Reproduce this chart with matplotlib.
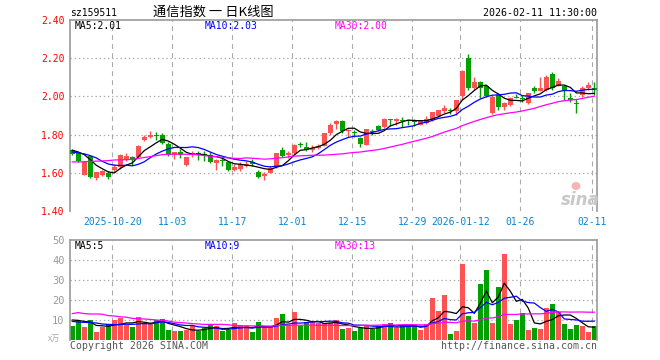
"""Daily K-line chart for sz159511 with volume panel."""

import matplotlib

matplotlib.use("Agg")
import matplotlib.pyplot as plt
import numpy as np
import pandas as pd
from matplotlib.patches import Ellipse

plt.rcParams["lines.scale_dashes"] = False

# OHLC per trading day, 2025-10-09 .. 2026-02-11
opens = [1.72, 1.704, 1.591, 1.687, 1.573, 1.591, 1.60, 1.615, 1.63, 1.665,
         1.685, 1.685, 1.77, 1.788, 1.796, 1.80, 1.753, 1.695, 1.71, 1.643,
         1.693, 1.702, 1.697, 1.694, 1.65, 1.668, 1.659, 1.615, 1.62, 1.633,
         1.655, 1.606, 1.585, 1.598, 1.632, 1.72, 1.694, 1.702, 1.75, 1.737,
         1.72, 1.73, 1.742, 1.807, 1.857, 1.873, 1.818, 1.813, 1.782, 1.747,
         1.818, 1.843, 1.84, 1.879, 1.869, 1.874, 1.878, 1.87, 1.852, 1.86,
         1.874, 1.895, 1.921, 1.928, 1.921, 2.00, 2.20, 2.043, 2.074, 2.052,
         1.912, 2.008, 1.947, 1.956, 1.996, 1.989, 1.964, 2.043, 2.026, 2.034,
         2.116, 2.057, 2.052, 1.994, 1.961, 2.008, 2.043, 2.046]
highs = [1.725, 1.709, 1.66, 1.69, 1.606, 1.615, 1.61, 1.645, 1.70, 1.705,
         1.69, 1.745, 1.80, 1.82, 1.815, 1.81, 1.76, 1.71, 1.725, 1.685,
         1.712, 1.715, 1.712, 1.708, 1.67, 1.685, 1.66, 1.645, 1.655, 1.66,
         1.672, 1.615, 1.606, 1.633, 1.705, 1.735, 1.712, 1.75, 1.76, 1.76,
         1.745, 1.75, 1.81, 1.86, 1.878, 1.878, 1.83, 1.826, 1.785, 1.83,
         1.83, 1.852, 1.886, 1.88, 1.886, 1.89, 1.878, 1.88, 1.876, 1.895,
         1.92, 1.93, 1.955, 1.94, 1.98, 2.14, 2.221, 2.104, 2.08, 2.06,
         2.008, 2.017, 1.973, 1.995, 2.01, 2.005, 2.02, 2.057, 2.104, 2.11,
         2.127, 2.095, 2.06, 2.017, 1.985, 2.052, 2.074, 2.074]
lows = [1.695, 1.655, 1.588, 1.572, 1.561, 1.585, 1.57, 1.605, 1.62, 1.66,
        1.64, 1.68, 1.765, 1.78, 1.77, 1.75, 1.69, 1.67, 1.68, 1.638,
        1.685, 1.668, 1.66, 1.65, 1.617, 1.633, 1.61, 1.608, 1.61, 1.63,
        1.638, 1.575, 1.56, 1.597, 1.625, 1.685, 1.68, 1.70, 1.735, 1.715,
        1.71, 1.725, 1.74, 1.80, 1.83, 1.81, 1.79, 1.79, 1.735, 1.745,
        1.80, 1.82, 1.835, 1.845, 1.85, 1.84, 1.848, 1.845, 1.85, 1.857,
        1.87, 1.89, 1.915, 1.91, 1.905, 1.98, 2.035, 2.035, 1.99, 1.995,
        1.907, 1.93, 1.93, 1.95, 1.99, 1.97, 1.96, 2.017, 2.026, 2.03,
        2.035, 2.055, 1.982, 1.973, 1.912, 1.999, 2.035, 2.008]
closes = [1.70, 1.66, 1.657, 1.578, 1.603, 1.608, 1.578, 1.63, 1.695, 1.69,
          1.665, 1.74, 1.79, 1.796, 1.793, 1.757, 1.695, 1.707, 1.695, 1.683,
          1.705, 1.699, 1.693, 1.659, 1.667, 1.664, 1.615, 1.632, 1.645, 1.645,
          1.645, 1.58, 1.593, 1.624, 1.702, 1.69, 1.706, 1.746, 1.745, 1.72,
          1.732, 1.742, 1.807, 1.85, 1.869, 1.817, 1.822, 1.81, 1.752, 1.829,
          1.815, 1.826, 1.881, 1.877, 1.881, 1.872, 1.869, 1.868, 1.874, 1.881,
          1.916, 1.927, 1.939, 1.925, 1.979, 2.134, 2.043, 2.074, 2.043, 2.00,
          1.999, 1.947, 1.964, 1.99, 1.994, 1.987, 2.017, 2.026, 2.043, 2.104,
          2.043, 2.081, 2.026, 1.982, 1.959, 2.043, 2.06, 2.034]
# volume, 万
volumes = [7.2, 9.3, 6.3, 9.8, 3.8, 6.3, 8.0, 9.8, 10.8, 7.7,
           6.3, 11.3, 8.3, 8.3, 9.8, 10.3, 4.8, 4.3, 4.3, 4.8,
           6.8, 4.3, 5.8, 7.3, 6.8, 4.3, 4.8, 8.3, 7.3, 6.8,
           3.8, 8.8, 6.8, 6.8, 10.8, 12.8, 7.3, 13.8, 6.8, 8.8,
           8.8, 8.3, 8.3, 8.5, 9.8, 5.3, 5.8, 4.3, 6.0, 7.7,
           5.5, 6.8, 8.0, 8.7, 6.0, 7.2, 7.2, 6.8, 4.8, 8.0,
           21.2, 14.7, 22.7, 3.2, 4.3, 38.2, 12.2, 8.7, 28.2, 35.2,
           8.7, 26.7, 43.2, 8.2, 9.8, 13.7, 4.8, 6.2, 5.7, 16.2,
           18.2, 14.2, 8.2, 5.7, 7.7, 7.2, 4.2, 7.2]

# MA values at the left edge (they depend on days before the window)
price_ma5_head = [1.718, 1.709, 1.695, 1.669]
price_ma10_head = [1.709, 1.704, 1.699, 1.69, 1.678, 1.66, 1.646, 1.64, 1.638]
price_ma30_head = [1.657, 1.657, 1.658, 1.66, 1.661, 1.662, 1.664, 1.667, 1.668, 1.669,
                   1.67, 1.675, 1.68, 1.685, 1.69, 1.695, 1.697, 1.698, 1.698, 1.697,
                   1.696, 1.694, 1.69, 1.687, 1.684, 1.681, 1.678, 1.676, 1.675]
vol_ma5_head = [10.0, 9.8, 9.3, 9.0]
vol_ma10_head = [9.3, 9.0, 8.8, 8.7, 8.5, 8.0, 7.8, 7.7, 7.8]
vol_ma30_head = [13.2, 13.7, 13.2, 13.0, 13.0, 12.9, 12.2, 12.0, 11.6, 11.4,
                 10.8, 10.6, 10.5, 10.3, 10.0, 9.8, 9.5, 8.9, 8.7, 8.5,
                 8.2, 8.0, 7.8, 7.8, 7.8, 7.8, 7.6, 7.3, 7.0]

tick_idx = [7, 17, 27, 37, 47, 57, 65, 75, 87]
tick_labels = ["2025-10-20", "11-03", "11-17", "12-01", "12-15", "12-29",
               "2026-01-12", "01-26", "02-11"]
price_ticks = [1.40, 1.60, 1.80, 2.00, 2.20, 2.40]
vol_ticks = [10, 20, 30, 40, 50]

RED = "#ff5252"
GREEN = "#00a000"
GRID = "#aaaaaa"
SPINE = "#999999"
MONO = "DejaVu Sans Mono"
W, H = 660, 360


def moving_average(values, n, head):
    ma = pd.Series(values).rolling(n).mean().to_numpy()
    ma[: len(head)] = head
    return ma


def style_axes(ax):
    for side in ("top", "left", "right"):
        ax.spines[side].set_color(SPINE)
        ax.spines[side].set_linewidth(1.2)
    ax.spines["bottom"].set_visible(False)
    ax.tick_params(length=0)
    ax.set_xlim(-0.38, 87.45)
    for t in tick_idx:
        ax.axvline(t - 0.33, color=GRID, lw=0.8, ls=(0, (3.5, 3.0)), zorder=0)


def px(x, y):
    return x / W, 1 - y / H


o = np.array(opens)
h = np.array(highs)
lo = np.array(lows)
c = np.array(closes)
v = np.array(volumes)
x = np.arange(len(c))
up = c >= o
colors = np.where(up, RED, GREEN)

fig = plt.figure(figsize=(W / 100, H / 100), dpi=100)
ax = fig.add_axes([70 / W, 149 / H, 527 / W, 191 / H])
axv = fig.add_axes([70 / W, 20 / H, 527 / W, 100 / H])

# price panel
style_axes(ax)
ax.set_ylim(1.40, 2.40)
for p in price_ticks[1:-1]:
    ax.axhline(p, color=GRID, lw=0.9, ls=(0, (1, 2)), zorder=0)
ax.vlines(x, lo, h, colors=colors, lw=1.0, zorder=2)
body = np.maximum(np.abs(c - o), 0.005)
ax.bar(x, body, bottom=np.minimum(o, c), width=0.78, color=colors, lw=0, zorder=3)
ax.plot(x, moving_average(c, 5, price_ma5_head), color="black", lw=0.9, zorder=4)
ax.plot(x, moving_average(c, 10, price_ma10_head), color="#0000ff", lw=0.9, zorder=4)
ax.plot(x, moving_average(c, 30, price_ma30_head), color="#ff00ff", lw=0.9, zorder=4)
ax.set_yticks(price_ticks)
ax.set_yticklabels([f"{p:.2f}" for p in price_ticks], color="red",
                   fontfamily=MONO, fontsize=7)
ax.set_xticks([t - 0.33 for t in tick_idx])
ax.set_xticklabels(tick_labels, color="#0a84d0", fontfamily=MONO, fontsize=7)
ax.tick_params(axis="y", pad=4)
ax.tick_params(axis="x", pad=4)

# volume panel
style_axes(axv)
axv.set_ylim(0, 50)
for t in vol_ticks[:-1]:
    axv.axhline(t, color=GRID, lw=0.9, ls=(0, (1, 2)), zorder=0)
axv.bar(x, v, width=0.78, color=colors, lw=0, zorder=2)
axv.plot(x, moving_average(v, 5, vol_ma5_head), color="black", lw=0.9, zorder=4)
axv.plot(x, moving_average(v, 10, vol_ma10_head), color="#0000ff", lw=0.9, zorder=4)
axv.plot(x, moving_average(v, 30, vol_ma30_head), color="#ff00ff", lw=0.9, zorder=4)
axv.set_yticks(vol_ticks)
axv.set_yticklabels([str(t) for t in vol_ticks], color="#999999",
                    fontfamily=MONO, fontsize=7.5)
axv.set_xticks([])
axv.tick_params(axis="y", pad=4)

# header texts
fig.text(*px(70, 13), "sz159511", fontfamily=MONO, fontsize=7, va="center")
fig.text(*px(213, 12), "通信指数 一 日K线图", family=["Noto Sans CJK SC", "DejaVu Sans"],
         fontsize=9.5, ha="center", va="center")
fig.text(*px(597, 13), "2026-02-11 11:30:00", fontfamily=MONO, fontsize=7.2,
         ha="right", va="center")

for label, xp, col in [("MA5:2.01", 75, "black"), ("MA10:2.03", 205, "#0000ff"),
                       ("MA30:2.00", 335, "#ff00ff")]:
    fig.text(*px(xp, 26), label, fontfamily=MONO, fontsize=7, color=col, va="center")
for label, xp, col in [("MA5:5", 75, "black"), ("MA10:9", 205, "#0000ff"),
                       ("MA30:13", 335, "#ff00ff")]:
    fig.text(*px(xp, 246), label, fontfamily=MONO, fontsize=7, color=col, va="center")

fig.text(*px(48, 338), "x万", family=["Noto Sans CJK SC", "DejaVu Sans"], fontsize=6,
         color="#aaaaaa", va="center")
fig.text(*px(70, 346), "Copyright 2026 SINA.COM", fontfamily=MONO, fontsize=7.1,
         color="#555555", va="center")
fig.text(*px(597, 346), "http://finance.sina.com.cn", fontfamily=MONO, fontsize=7.1,
         color="#555555", ha="right", va="center")

# sina watermark: grey word with the pink eye above it
fig.text(*px(580, 200), "sina", fontsize=12, fontweight="bold", style="italic",
         color="#c8c8c8", ha="center", va="center")
fig.add_artist(Ellipse(px(576, 186), 9 / W, 8 / H, transform=fig.transFigure,
                       facecolor="#f5b5b5", edgecolor="none"))

fig.savefig("out.png", dpi=100)
